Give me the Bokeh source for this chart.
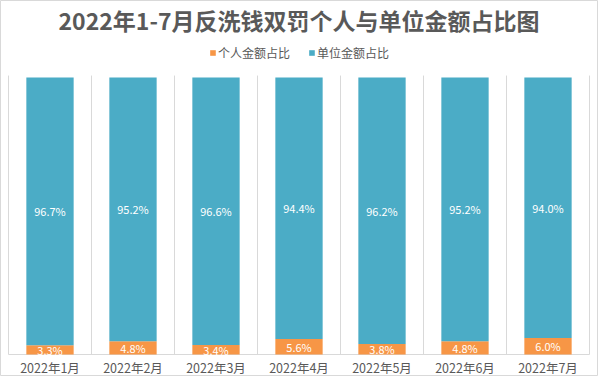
from bokeh.plotting import figure
from bokeh.models import ColumnDataSource, Legend, LegendItem, Range1d, LabelSet, Label
from bokeh.core.properties import value
from bokeh.embed import file_html
from bokeh.resources import INLINE

months = ["2022年1月", "2022年2月", "2022年3月", "2022年4月", "2022年5月", "2022年6月", "2022年7月"]
personal = [3.3, 4.8, 3.4, 5.6, 3.8, 4.8, 6.0]
unit = [96.7, 95.2, 96.6, 94.4, 96.2, 95.2, 94.0]
series_names = ["个人金额占比", "单位金额占比"]
title_text = "2022年1-7月反洗钱双罚个人与单位金额占比图"

ORANGE = "#F79646"
TEAL = "#4BACC6"
GRAY = "#595959"
LINE = "#d9d9d9"
FONT = "Noto Sans CJK SC"

W, H = 598, 376
n = len(months)
# layout (pixels inside the figure)
px_x = 83.0          # pixels per category
left_px = 8.0        # category area starts here
bar_bottom_px = 354.0
px_y = 2.77          # pixels per percent
month_label_px = 367.0
title_px = 19.0

xs = [i + 0.5 for i in range(n)]
src = ColumnDataSource(dict(
    x=xs,
    personal=personal,
    unit=unit,
    p_y=[v / 2 for v in personal],
    u_y=[a + b / 2 for a, b in zip(personal, unit)],
    p_lbl=[f"{v:.1f}%" for v in personal],
    u_lbl=[f"{v:.1f}%" for v in unit],
))

x0 = -left_px / px_x
x1 = x0 + W / px_x
y0 = -(H - bar_bottom_px) / px_y
y1 = y0 + H / px_y

p = figure(width=W, height=H, output_backend="svg", toolbar_location=None,
           x_range=Range1d(x0, x1), y_range=Range1d(y0, y1),
           x_axis_location=None, y_axis_location=None, title_location=None,
           min_border=0, min_border_left=0, min_border_right=0,
           min_border_top=0, min_border_bottom=0)
p.outline_line_color = LINE
p.grid.visible = False

# category separators and baseline
bounds = list(range(n + 1))
p.segment(x0=bounds, x1=bounds, y0=[0] * len(bounds), y1=[100.7] * len(bounds),
          line_color=LINE, line_width=1)
p.segment(x0=[0], x1=[n], y0=[0], y1=[0], line_color=LINE, line_width=1)

r = p.vbar_stack(["personal", "unit"], x="x", width=0.57, source=src,
                 color=[ORANGE, TEAL], line_color=None)

for col, lbl in (("p_y", "p_lbl"), ("u_y", "u_lbl")):
    p.add_layout(LabelSet(x="x", y=col, text=lbl, source=src, text_align="center",
                          text_baseline="middle", text_color="white",
                          text_font_size="11px", text_font=value(FONT)))

# category labels
src_m = ColumnDataSource(dict(x=xs, y=[-(month_label_px - bar_bottom_px) / px_y] * n, m=months))
p.add_layout(LabelSet(x="x", y="y", text="m", source=src_m, text_align="center",
                      text_baseline="middle", text_color=GRAY,
                      text_font_size="12.5px", text_font=value(FONT)))

# title
p.add_layout(Label(x=n / 2, y=(bar_bottom_px - title_px) / px_y, text=title_text,
                   text_align="center", text_baseline="middle", text_color=GRAY,
                   text_font=FONT, text_font_size="23px", text_font_style="bold"))

legend = Legend(items=[LegendItem(label=series_names[0], renderers=[r[0]]),
                       LegendItem(label=series_names[1], renderers=[r[1]])],
                orientation="horizontal", location="top_center")
legend.label_text_font = FONT
legend.label_text_font_size = "12px"
legend.label_text_color = GRAY
legend.glyph_width = 7
legend.glyph_height = 7
legend.label_standoff = 2
legend.spacing = 18
legend.border_line_color = None
legend.background_fill_alpha = 0
legend.padding = 0
legend.margin = 44
p.add_layout(legend)

open("out.html", "w").write(file_html(p, INLINE))
